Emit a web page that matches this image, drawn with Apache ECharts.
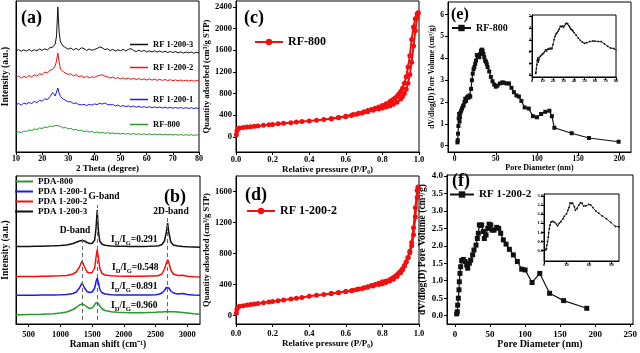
<!DOCTYPE html>
<html lang="en">
<head>
<meta charset="UTF-8" />
<title>RF carbon characterisation</title>
<script src="https://cdn.jsdelivr.net/npm/echarts@6/dist/echarts.min.js"></script>
<style>html,body{margin:0;background:#fff}</style>
</head>
<body>
<div id="main" style="width:640px;height:353px"></div>
<script type="text/javascript">
// ---- (a) XRD ----
var xrdTheta = [10,11,12,13,14,15,16,17,18,19,20,21,22,23,24,25,25.5,26,26.5,
    27,28,29,30,31,32,33,34,35,36,37,38,39,40,41,42,43,44,45,46,47,48,49,50,51,52,53,54,55,56,
    57,58,59,60,61,62,63,64,65,66,67,68,69,70,71,72,73,74,75,76,77,78,79,80];
var xrdRF1200_3 = [101,102.5,100.6,102.2,100.9,102.6,100.9,102.3,101.2,103,101.6,103.2,102.1,104.3,104.8,108,116,145,120,
    110,106,104.3,102.8,104,102,103.6,102,104.2,103.4,101.5,103,101.7,102.6,103.5,105,104.2,102.4,103.2,101.4,
    102.6,101,102.2,101.3,102.6,101,102.7,103.3,101.5,100.4,101.9,100.4,101.6,100,101.1,100.1,101.3,99.9,101,99.7,
    100.8,99.4,100.6,99.5,100.4,99.2,100.2,98.9,100,99.1,100,98.8,99.7,99];
var xrdRF1200_2 = [74,76,73.8,75.8,74.4,76.6,75,77.2,75.9,78.3,77.3,80,79,81.8,82.5,86,91,99,90,
    83,80.5,78.8,77.6,78.2,76,77.3,75.4,76.2,74.4,75.6,74,75.3,74.6,76,76.6,77.2,75.8,75.2,73.9,
    74.9,73.5,74.4,73.1,74.2,72.9,73.8,72.7,73.7,72.5,73.4,72.2,73.2,72,73,71.9,72.8,71.7,72.6,71.6,
    72.5,71.4,72.3,71.3,72.1,71.2,72,71,71.9,70.9,71.8,70.8,71.5,71];
var xrdRF1200_1 = [47,48.6,46.9,49,47.9,49.6,48.4,50.6,49.4,51.6,50.8,53.2,52.4,55.4,59.5,56,60,64,59,
    55.5,53,51.6,50.3,50.2,48.4,49.1,47.4,47.2,47.6,46.4,47.6,46.9,48.1,47.4,48.7,47.9,49,47.5,47.1,
    47.6,46,46.9,45.6,46.5,45.3,46.2,45,46,44.8,45.7,44.6,45.4,44.4,45.3,44.3,45.1,44.2,45,44,
    44.8,43.9,44.7,43.8,44.6,43.7,44.5,43.6,44.4,43.5,44.3,43.4,44.1,43.5];
var xrdRF800 = [19,20.2,19.4,21,20.4,22.1,21.4,23.1,22.4,24.1,23.4,25.1,24.3,26.1,25.4,26.6,25.5,26.3,25,
    25.6,24,24.6,23,23.6,22,22.6,21.2,21.9,20.4,21.1,20,20.6,19.4,20.1,19,19.7,18.7,19.4,18.4,
    19.1,18.2,18.9,18,18.7,17.8,18.5,17.7,18.4,17.6,18.3,17.5,18.2,17.4,18.1,17.3,18,17.2,17.9,17.1,
    17.8,17,17.7,16.9,17.6,16.8,17.5,16.7,17.4,16.6,17.3,16.6,17.2,16.8];
var xrdTicks = [10,20,30,40,50,60,70,80];

// ---- (b) Raman ----
var ramanShift = [300,400,500,600,700,800,900,1000,1100,1200,1250,1300,1340,1380,1420,1460,1500,
    1540,1560,1580,1600,1620,1650,1700,1800,1900,2000,2100,2200,2300,2400,2500,
    2550,2600,2640,2670,2690,2710,2740,2780,2850,2930,3000,3100,3200];
var ramanPDA1200_3 = [77.5,77.5,77.6,77.7,77.8,78,78.2,78.5,79,80.5,81.8,83,83.5,83,81.5,80.5,80.5,
    84,95,114,92,83,80,78.8,78,77.8,77.7,77.6,77.6,77.6,77.7,77.9,
    78.3,79.5,83,92,101,91,82,79,78,77.5,77.2,77,76.8];
var ramanPDA1200_2 = [47.5,47.5,47.5,47.6,47.7,47.8,48,48.2,48.6,50,52,57,63,57,52,51,51.5,
    56,66,74.5,66,56,51,49,48.3,48,47.8,47.8,47.8,47.8,47.9,48,
    48.5,50,55,61,64.5,61,54,50,48.5,48.8,47.8,47.3,47];
var ramanPDA1200_1 = [28.7,28.7,28.7,28.8,28.9,29,29.1,29.3,29.6,30.5,32,36,41,36,32.5,31.5,32,
    36,42,46,41,35,31.5,30,29.3,29.1,29,29,29,29,29.1,29.2,
    29.7,31,33.5,36.5,37.7,36,33,31,30,30.6,29.5,29,28.8];
var ramanPDA800 = [9.3,9.3,9.4,9.5,9.7,10,10.3,11,12,14.5,16.5,19,20,19,17,15.5,16,
    19,21.3,22,20.5,18,15.5,13.5,12.3,11.8,11.5,11.3,11.2,11.3,11.5,11.7,
    11.9,12.1,12.3,12.4,12.5,12.4,12.3,12.2,12,11.5,11,10.3,9.8];
var ramanTicks = [500,1000,1500,2000,2500,3000];
var bandShift = [1340,1580,2690];
var bandLineTop = [88,119,108];
var idigRatio = ['0.291','0.548','0.891','0.960'];

// ---- (c)/(d) N2 isotherms ----
var isoPads = [0.002,0.005,0.01,0.02,0.04,0.06,0.08,0.1,0.12,0.15,0.18,0.2,0.23,0.26,0.3,0.33,0.36,0.4,0.44,0.48,
    0.52,0.56,0.6,0.63,0.66,0.69,0.72,0.75,0.78,0.8,0.82,0.84,0.86,0.88,0.9,0.91,0.92,0.93,0.94,0.95,
    0.96,0.97,0.98,0.99,0.995];
var isoPdes = [0.995,0.99,0.98,0.97,0.96,0.95,0.94,0.93,0.92,0.91,0.9,0.89,0.88,0.87,0.86,0.85,0.84,
    0.82,0.8,0.78,0.76,0.74,0.72,0.7,0.67,0.64,0.6,0.56,0.52];
var isoRF800ads = [40,110,150,163,172,180,188,195,202,212,222,230,240,250,262,272,282,295,308,322,
    336,352,372,395,418,442,465,490,515,532,550,572,600,640,700,745,800,880,990,1150,
    1380,1680,1960,2200,2290];
var isoRF800des = [2295,2270,2180,2030,1800,1500,1290,1110,990,900,840,790,750,720,695,672,650,
    612,580,552,528,505,485,465,438,412,382,356,334];
var isoRF1200ads = [30,80,110,120,128,136,144,150,157,166,176,183,193,203,215,224,235,250,262,274,
    285,296,310,322,336,350,365,382,400,412,427,445,468,503,552,590,640,690,745,810,
    900,1040,1270,1520,1650];
var isoRF1200des = [1655,1610,1390,1130,940,830,750,690,645,605,575,550,528,508,490,475,462,
    445,435,418,402,388,373,358,342,327,312,298,286];
var isoPTicks = [0,0.2,0.4,0.6,0.8,1.0];
var isoTicksC = [0,400,800,1200,1600,2000,2400];
var isoTicksD = [0,400,800,1200,1600];

// ---- (e)/(f) pore size distribution ----
var psdRF800D = [3.5,3.8,4.2,4.6,5,5.5,6,6.5,7,8,9,10,11,12,13,14,15,16,17,18,19,20,21,22,23,24,25,26,27,28,29,30,
    31,32,33,34,35,36,37,38,39,40,42,44,46,48,50,52,55,58,60,63,66,69,72,75,78,81,85,90,95,100,105,110,115,118,121,142,163,199];
var psdRF800V = [0.15,0.25,0.55,0.9,1.25,1.45,1.1,1.3,1.5,1.6,1.7,1.8,1.85,2.0,2.15,2.05,2.2,2.25,2.2,2.3,2.25,2.6,3.0,3.3,3.5,3.6,3.75,3.9,4.15,4.1,4.15,4.05,
    4.2,4.35,4.4,4.35,4.2,4.05,3.9,3.85,3.75,3.6,3.4,3.15,2.95,2.8,2.7,2.75,2.85,2.9,2.88,2.85,2.85,2.65,2.45,2.3,2.25,2.05,1.75,1.7,1.35,1.3,1.45,1.55,1.6,1.35,0.82,0.57,0.35,0.18];
var psdRF1200D = [2.4,3.3,3.8,4.8,5.7,6.2,7.1,8.1,9.5,11.9,14.3,16.7,18.1,20.5,22.4,25.2,27.1,30,31.9,33.3,
    34.8,36.5,38.1,40.5,41.9,44.3,46.7,48.6,51,52.9,55.7,59.5,62.4,65.2,69,72.9,77.6,83.3,89,95.2,100,110,121,135,155,188];
var psdRF1200V = [0.05,0.11,0.3,0.5,0.74,0.97,1.21,1.4,1.58,1.61,1.55,1.45,1.36,1.5,1.59,1.74,1.88,2.02,2.21,2.36,
    2.6,2.58,2.6,2.41,2.21,2.31,2.5,2.62,2.6,2.45,2.45,2.53,2.5,2.36,2.17,2.05,1.9,1.74,1.55,1.33,1.31,0.95,1.21,0.64,0.43,0.21];
var psdTicksE = [0,50,100,150,200];
var psdVTicksE = [0,1,2,3,4,5,6];
var psdTicksF = [0,50,100,150,200,250];
var psdVTicksF = [0,0.5,1,1.5,2,2.5,3,3.5,4];
var insetTicksE = [0,10,20,30,40,50,60,70,80];
var insetVTicksE = [0,1,2,3,4,5];
var insetTicksF = [0,30,60,90];
var insetVTicksF = [0,0.5,1,1.5,2,2.5,3];

var FONT = 'Liberation Serif';
var RED = '#f2100f', BLUE = '#1c1ce6', GREEN = '#279a2a', BLACK = '#111';

function pairs(xs, ys) {
    var d = [];
    for (var i = 0; i < xs.length; i++) d.push([xs[i], ys[i]]);
    return d;
}
function tstyle(size) {
    return {fontFamily: FONT, fontWeight: 'bold', fontSize: size, color: '#000'};
}
// one value axis; ticks = null hides labels and ticks
function axis(g, min, max, ticks, size, dec, margin, name, gap, nameSize, vertical) {
    var lab = tstyle(size);
    lab.show = !!ticks; lab.customValues = ticks || undefined; lab.margin = margin;
    lab.formatter = function (v) { return dec >= 0 ? v.toFixed(dec) : String(v); };
    var ns = tstyle(nameSize);
    return {
        type: 'value', gridIndex: g, min: min, max: max,
        splitLine: {show: false},
        axisLine: {show: true, onZero: false, lineStyle: {color: '#000', width: 1}},
        axisTick: {show: !!ticks, customValues: ticks || undefined, length: 3, lineStyle: {color: '#000'}},
        axisLabel: lab,
        name: name || '', nameLocation: 'middle', nameGap: gap || 0,
        nameRotate: vertical ? 90 : 0, nameTextStyle: ns
    };
}
function grid(l, t, w, h) {
    return {left: l, top: t, width: w, height: h, show: true, borderColor: '#000', borderWidth: 1,
        backgroundColor: 'transparent', containLabel: false, outerBoundsMode: 'none'};
}
function line(name, xi, data, color, width, symbol, size) {
    return {type: 'line', name: name, xAxisIndex: xi, yAxisIndex: xi, data: data,
        symbol: symbol || 'none', symbolSize: size || 0, showSymbol: !!symbol,
        lineStyle: {color: color, width: width}, itemStyle: {color: color},
        emphasis: {disabled: true}, z: 3};
}
function legend1(name, l, t, w, size, label, plain) {
    var lg = {data: [name], left: l, top: t, itemWidth: w, itemHeight: 8, padding: 0, selectedMode: false,
        textStyle: tstyle(size), formatter: function () { return label || name; }};
    if (plain) { lg.icon = 'rect'; lg.itemHeight = 1.5; }
    return lg;
}
function gtext(text, x, y, size, align) {
    return {type: 'text', x: x, y: y, silent: true, z: 10,
        style: {text: text, fill: '#000', font: 'bold ' + size + 'px "' + FONT + '"',
            align: align || 'left', verticalAlign: 'middle'}};
}
function ratioText(r, x, y) {
    return {type: 'text', x: x, y: y, silent: true, z: 10,
        style: {text: '{n|I}{s|D}{n|/I}{s|G}{n|=' + r + '}', fill: '#000', verticalAlign: 'middle',
            rich: {
                n: {fontFamily: FONT, fontWeight: 'bold', fontSize: 9.5, lineHeight: 13, verticalAlign: 'top'},
                s: {fontFamily: FONT, fontWeight: 'bold', fontSize: 6.5, lineHeight: 13, verticalAlign: 'top', padding: [5, 0, 0, 0]}
            }}};
}

var bandLines = [];
for (var i = 0; i < bandShift.length; i++) {
    bandLines.push([{coord: [bandShift[i], 4]}, {coord: [bandShift[i], bandLineTop[i]]}]);
}

var myChart = echarts.init(document.getElementById('main'), null, {renderer: 'canvas'});
var option = {
    animation: false,
    backgroundColor: '#fff',
    grid: [
        grid(16, 1, 183, 151),     // a
        grid(16, 176, 184, 148),   // b
        grid(236, 1, 183, 151),    // c
        grid(236, 176, 183, 148),  // d
        grid(448, 2, 183, 150),    // e
        grid(447, 175, 186, 149),  // f
        grid(532, 15, 84, 62),     // e inset
        grid(544, 194, 75, 67)     // f inset
    ],
    xAxis: [
        axis(0, 10, 80, xrdTicks, 8, -1, 3, '2 Theta (degree)', 11, 9),
        axis(1, 300, 3200, ramanTicks, 8.5, -1, 6, 'Raman shift (cm\u207b\u00b9)', 16, 9.5),
        axis(2, 0, 1, isoPTicks, 8.5, 1, 3, 'Relative pressure (P/P\u2080)', 11, 9),
        axis(3, 0, 1, isoPTicks, 8.5, 1, 5, 'Relative pressure (P/P\u2080)', 14, 9),
        axis(4, -8, 214, psdTicksE, 7.5, -1, 3, 'Pore Diameter (nm)', 10, 8),
        axis(5, -11.4, 254, psdTicksF, 9, -1, 6, 'Pore Diameter (nm)', 15, 10),
        axis(6, 0, 80, insetTicksE, 4.5, -1, 1),
        axis(7, 0, 100, insetTicksF, 4.5, -1, 1)
    ],
    yAxis: [
        axis(0, 0, 151, null, 8, -1, 3, 'Intensity (a.u.)', 5, 9.5, true),
        axis(1, 0, 148, null, 8, -1, 3, 'Intensity (a.u.)', 5, 9.5, true),
        axis(2, -280, 2510, isoTicksC, 8.5, -1, 4, 'Quantity adsorbed (cm\u00b3/g STP)', 20, 8.5, true),
        axis(3, -107, 1797, isoTicksD, 8.5, -1, 4, 'Quantity adsorbed (cm\u00b3/g STP)', 20, 8.5, true),
        axis(4, -0.29, 6.58, psdVTicksE, 7.5, -1, 4, 'dV/dlog(D) Pore Volume (cm\u00b3/g)', 11, 7.5, true),
        axis(5, -0.24, 4.03, psdVTicksF, 9, 1, 4, 'dV/dlog(D) Pore Volume (cm\u00b3/g)', 15, 9.5, true),
        axis(6, -0.15, 5.1, insetVTicksE, 4.5, -1, 1),
        axis(7, -0.56, 3.1, insetVTicksF, 4.5, 1, 1)
    ],
    legend: [
        legend1('RF 1-200-3', 130, 40, 18, 8.5, null, true),
        legend1('RF 1-200-2', 130, 63, 18, 8.5, null, true),
        legend1('RF 1-200-1', 130, 95, 18, 8.5, null, true),
        legend1('RF-800', 130, 120, 18, 8.5, null, true),
        {data: ['PDA-800', 'PDA 1-200-1', 'PDA 1-200-2', 'PDA 1-200-3'], orient: 'vertical', left: 15, top: 177,
            icon: 'rect', itemWidth: 18, itemHeight: 2, itemGap: 1, padding: 0, selectedMode: false, textStyle: tstyle(9)},
        legend1('RF-800 iso', 254, 36, 28, 12, 'RF-800'),
        legend1('RF 1-200-2 iso', 246, 205, 28, 12, 'RF 1-200-2'),
        legend1('RF-800 psd', 451, 23, 19, 10, 'RF-800'),
        legend1('RF 1-200-2 psd', 449, 189, 24, 11, 'RF 1-200-2')
    ],
    series: [
        line('RF 1-200-3', 0, pairs(xrdTheta, xrdRF1200_3), BLACK, 1),
        line('RF 1-200-2', 0, pairs(xrdTheta, xrdRF1200_2), RED, 1),
        line('RF 1-200-1', 0, pairs(xrdTheta, xrdRF1200_1), BLUE, 1),
        line('RF-800', 0, pairs(xrdTheta, xrdRF800), GREEN, 1),

        line('PDA-800', 1, pairs(ramanShift, ramanPDA800), GREEN, 1.5),
        line('PDA 1-200-1', 1, pairs(ramanShift, ramanPDA1200_1), BLUE, 1.5),
        line('PDA 1-200-2', 1, pairs(ramanShift, ramanPDA1200_2), RED, 1.5),
        (function () {
            var s = line('PDA 1-200-3', 1, pairs(ramanShift, ramanPDA1200_3), BLACK, 1.5);
            s.markLine = {silent: true, symbol: 'none', label: {show: false},
                lineStyle: {type: [4, 3], color: '#666', width: 1}, data: bandLines};
            return s;
        })(),

        line('RF-800 iso', 2, pairs(isoPads, isoRF800ads), RED, 2, 'circle', 5),
        line('RF-800 iso', 2, pairs(isoPdes, isoRF800des), RED, 2, 'circle', 5),
        line('RF 1-200-2 iso', 3, pairs(isoPads, isoRF1200ads), RED, 2, 'circle', 5),
        line('RF 1-200-2 iso', 3, pairs(isoPdes, isoRF1200des), RED, 2, 'circle', 5),

        line('RF-800 psd', 4, pairs(psdRF800D, psdRF800V), BLACK, 1.2, 'rect', 4),
        line('RF 1-200-2 psd', 5, pairs(psdRF1200D, psdRF1200V), BLACK, 1.2, 'rect', 5),
        line('', 6, pairs(psdRF800D, psdRF800V), BLACK, 0.8, 'rect', 1.6),
        line('', 7, pairs(psdRF1200D, psdRF1200V), BLACK, 0.8, 'rect', 1.6)
    ],
    graphic: [
        gtext('(a)', 21, 18, 18),
        gtext('(b)', 164, 197, 18),
        gtext('(c)', 244, 18, 18),
        gtext('(d)', 245, 195, 18),
        gtext('(e)', 451, 15, 16),
        gtext('(f)', 452, 181, 18),
        gtext('D-band', 75, 231, 9.5, 'center'),
        gtext('G-band', 104, 197, 9.5, 'center'),
        gtext('2D-band', 171, 212, 9.5, 'center'),
        ratioText(idigRatio[0], 111, 241),
        ratioText(idigRatio[1], 112, 269),
        ratioText(idigRatio[2], 111, 288),
        ratioText(idigRatio[3], 111, 307)
    ]
};
myChart.setOption(option);
</script>
</body>
</html>
